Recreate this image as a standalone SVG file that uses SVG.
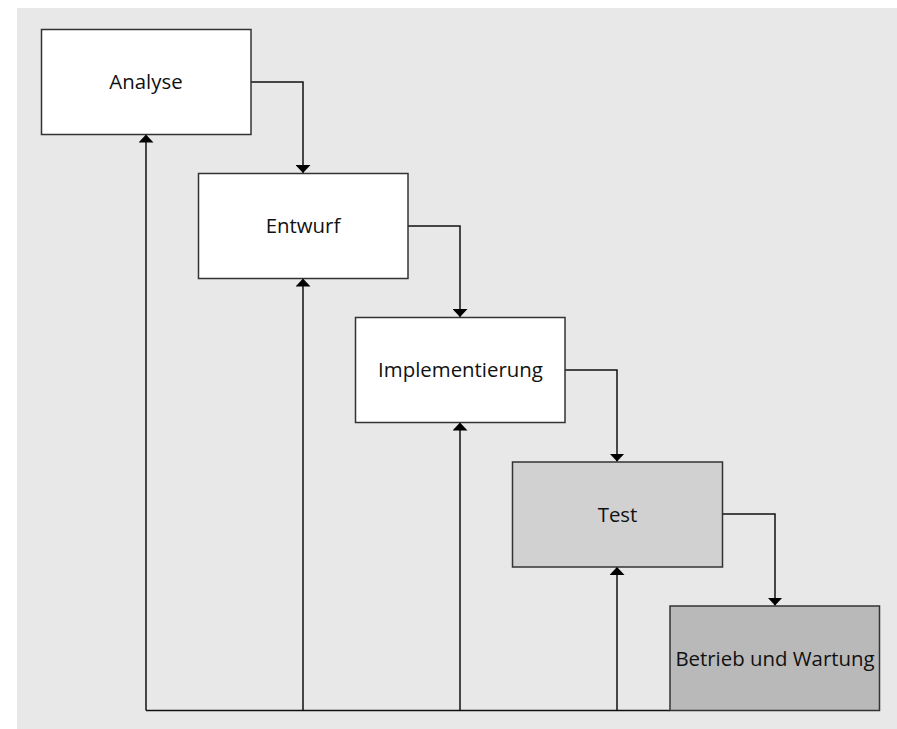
<svg xmlns="http://www.w3.org/2000/svg" width="897" height="729" viewBox="0 0 897 729">
  <style>
    .box { stroke: #333333; stroke-width: 1.5; }
    .plain { fill: #ffffff; }
    .test { fill: #d1d1d1; }
    .ops { fill: #b9b9b9; }
    .label { font-family: "Open Sans", "DejaVu Sans", sans-serif; font-size: 20.4px; fill: #111111; text-anchor: middle; }
    .line { fill: none; stroke: #111111; stroke-width: 1.5; }
  </style>
  <defs>
    <marker id="arrow" markerWidth="8" markerHeight="15" refX="8" refY="7.5" orient="auto" markerUnits="userSpaceOnUse">
      <path d="M0,0 L8,7.5 L0,15 Z" fill="#000000"/>
    </marker>
  </defs>

  <rect x="17" y="8" width="880" height="721" fill="#e8e8e8"/>

  <!-- connectors -->
  <g id="connectors">
    <!-- forward flow: right side of each phase down to the next -->
    <path class="line" d="M251,82 H303 V173" marker-end="url(#arrow)"/>
    <path class="line" d="M408,226 H460 V317" marker-end="url(#arrow)"/>
    <path class="line" d="M565,370 H617 V461.5" marker-end="url(#arrow)"/>
    <path class="line" d="M722.5,514 H775 V605.5" marker-end="url(#arrow)"/>
    <!-- feedback: bottom rail back up into earlier phases -->
    <path class="line" d="M670,710.5 H146"/>
    <path class="line" d="M146,710.5 V134.5" marker-end="url(#arrow)"/>
    <path class="line" d="M303,710.5 V278.5" marker-end="url(#arrow)"/>
    <path class="line" d="M460,710.5 V422.5" marker-end="url(#arrow)"/>
    <path class="line" d="M617,710.5 V567" marker-end="url(#arrow)"/>
  </g>

  <g id="analyse">
    <rect class="box plain" x="41.5" y="29.5" width="209.5" height="105"/>
    <text class="label" x="146" y="89">Analyse</text>
  </g>
  <g id="entwurf">
    <rect class="box plain" x="198.5" y="173.5" width="209.5" height="105"/>
    <text class="label" x="303" y="233">Entwurf</text>
  </g>
  <g id="implementierung">
    <rect class="box plain" x="355.5" y="317.5" width="209.5" height="105"/>
    <text class="label" x="460.5" y="377">Implementierung</text>
  </g>
  <g id="test">
    <rect class="box test" x="512.5" y="462" width="210" height="105"/>
    <text class="label" x="617.5" y="521.5">Test</text>
  </g>
  <g id="betrieb">
    <rect class="box ops" x="670" y="606" width="209.5" height="104.5"/>
    <text class="label" x="775" y="665.5">Betrieb und Wartung</text>
  </g>
</svg>
